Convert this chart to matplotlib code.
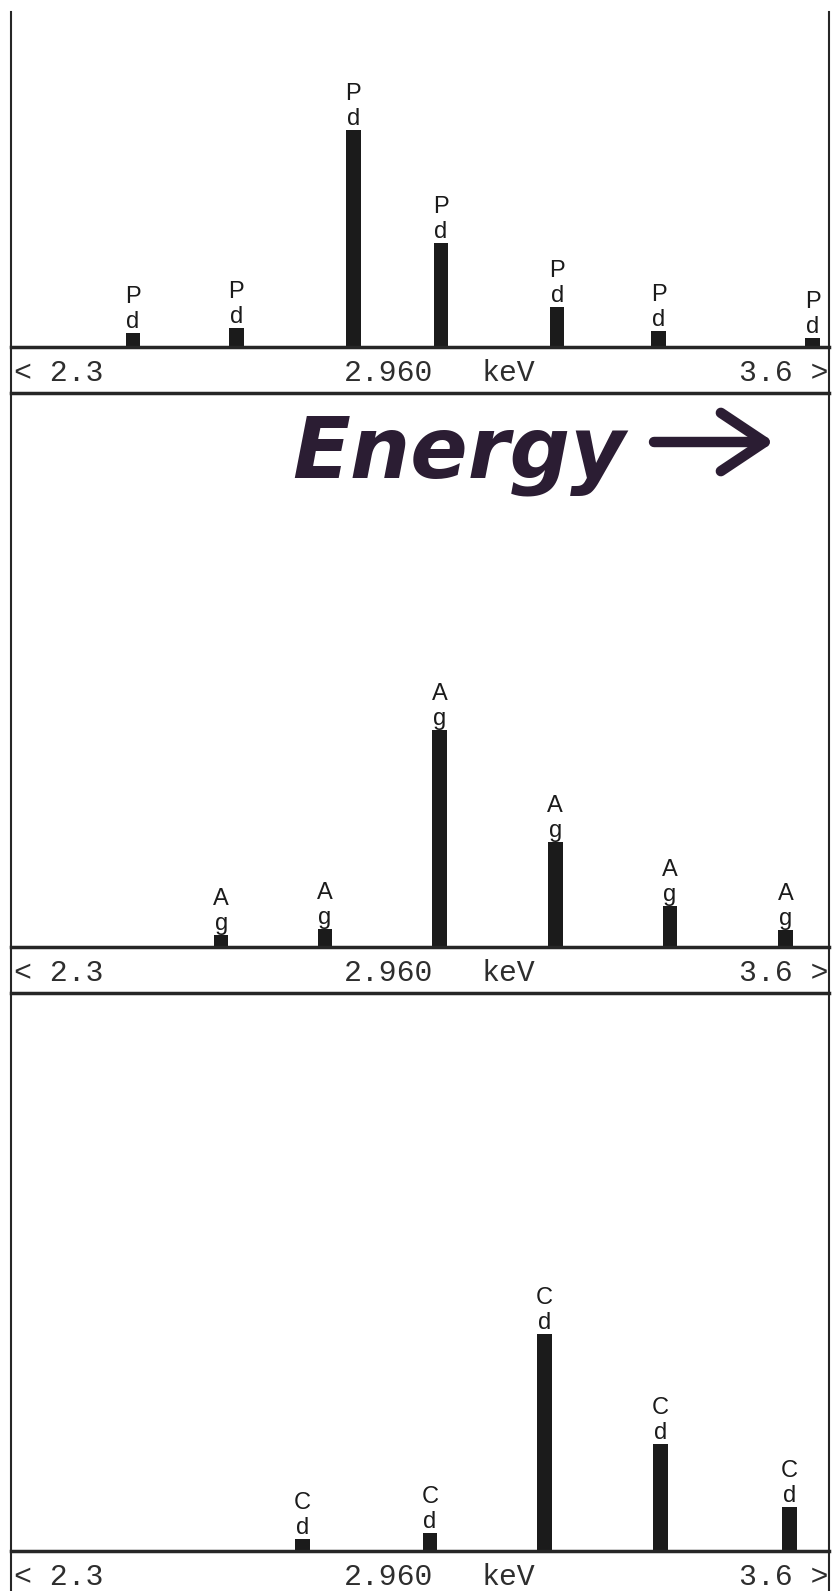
import matplotlib
matplotlib.use("Agg")
import matplotlib.pyplot as plt
from matplotlib import font_manager
from matplotlib.patches import FancyArrowPatch, ArrowStyle

# ---- L-line spectra: energy (keV) and intensity (% of the strongest line)
pd_energy = [2.494, 2.658, 2.844, 2.983, 3.168, 3.329, 3.574]
pd_counts = [6.5, 8.8, 100.0, 47.9, 18.4, 7.4, 4.1]
ag_energy = [2.634, 2.799, 2.981, 3.165, 3.347, 3.531]
ag_counts = [5.6, 8.3, 100.0, 48.6, 19.0, 7.9]
cd_energy = [2.763, 2.966, 3.148, 3.332, 3.537]
cd_counts = [5.5, 8.3, 100.0, 49.3, 20.3]

pd_symbol = ["P", "d"]
ag_symbol = ["A", "g"]
cd_symbol = ["C", "d"]

e_min, e_max = 2.3, 3.6
left_label = "< 2.3"
cursor_label = "2.960"
unit_label = "keV"
right_label = "3.6 >"
arrow_caption = "Energy"

# ---- page geometry (pixels)
W, H, DPI = 832, 1591, 100
X0, X1 = 11, 829
PEAK_PX = 217.0          # drawn height of a 100 % line
BAND_PX = 46             # height of the scale strip under each spectrum
# (top of plot area, baseline) for each spectrum
panels = [(12, 347), (393, 947), (995, 1551)]
spectra = [(pd_energy, pd_counts, pd_symbol),
           (ag_energy, ag_counts, ag_symbol),
           (cd_energy, cd_counts, cd_symbol)]

INK = "#1b1b1b"
LINE = "#262626"
TXT = "#2e2e2e"
MARKER = "#2b1d33"


def pick_font(*names):
    for n in names:
        try:
            font_manager.findfont(font_manager.FontProperties(family=n),
                                  fallback_to_default=False)
            return n
        except ValueError:
            pass
    return "DejaVu Sans"


label_font = pick_font("Liberation Sans Narrow", "Liberation Sans", "DejaVu Sans")
scale_font = pick_font("Liberation Mono", "DejaVu Sans Mono")

fig = plt.figure(figsize=(W / DPI, H / DPI), dpi=DPI, facecolor="white")


def rect(top, bottom):
    return [X0 / W, 1 - bottom / H, (X1 - X0) / W, (bottom - top) / H]


bar_width = 14.5 / (X1 - X0) * (e_max - e_min)

for i, ((top, base), (energy, counts, symbol)) in enumerate(zip(panels, spectra)):
    # spectrum area
    ax = fig.add_axes(rect(top, base))
    ax.set_xlim(e_min, e_max)
    ax.set_ylim(0, 100.0 * (base - top) / PEAK_PX)
    ax.bar(energy, counts, width=bar_width, color=INK, linewidth=0, zorder=2)
    for e, c in zip(energy, counts):
        ax.annotate(symbol[0], (e, c), xytext=(0, 30), textcoords="offset pixels",
                    ha="center", va="baseline", fontsize=17, family=label_font,
                    color=INK)
        ax.annotate(symbol[1], (e, c), xytext=(0, 0), textcoords="offset pixels",
                    ha="center", va="bottom", fontsize=17, family=label_font,
                    color=INK)
    ax.set_xticks([])
    ax.set_yticks([])
    ax.patch.set_alpha(0)
    ax.spines["top"].set_visible(False)
    for s in ("left", "right"):
        ax.spines[s].set_linewidth(1.5)
        ax.spines[s].set_color(LINE)
    ax.spines["bottom"].set_linewidth(2.5)
    ax.spines["bottom"].set_color(LINE)

    # energy scale strip
    band = fig.add_axes(rect(base, base + BAND_PX))
    band.set_xlim(0, 1)
    band.set_ylim(0, 1)
    band.set_xticks([])
    band.set_yticks([])
    band.patch.set_alpha(0)
    band.spines["top"].set_visible(False)
    for s in ("left", "right"):
        band.spines[s].set_linewidth(1.5)
        band.spines[s].set_color(LINE)
    band.spines["bottom"].set_linewidth(2.5)
    band.spines["bottom"].set_color(LINE)
    if i == len(panels) - 1:
        band.spines["bottom"].set_visible(False)

    ty = 1 - 34 / BAND_PX
    fx = lambda px: (px - X0) / (X1 - X0)
    kw = dict(fontsize=21.5, family=scale_font, color=TXT, va="baseline")
    band.text(fx(14), ty, left_label, ha="left", **kw)
    band.text(fx(344), ty, cursor_label, ha="left", **kw)
    band.text(fx(481), ty, unit_label, ha="left", **kw)
    band.text(fx(828), ty, right_label, ha="right", **kw)

# hand-written caption with arrow
fig.text(292 / W, 1 - 477 / H, arrow_caption, fontsize=61, fontweight="bold",
         fontstyle="italic", family="DejaVu Sans", color=MARKER,
         ha="left", va="baseline")
arrow = FancyArrowPatch((654 / W, 1 - 442 / H), (774 / W, 1 - 442 / H),
                        transform=fig.transFigure,
                        arrowstyle=ArrowStyle("->", head_length=0.45, head_width=0.3),
                        mutation_scale=70, lw=7.5, color=MARKER,
                        shrinkA=0, shrinkB=0, capstyle="round", joinstyle="round")
fig.add_artist(arrow)

fig.savefig("out.png", dpi=DPI, facecolor="white")
